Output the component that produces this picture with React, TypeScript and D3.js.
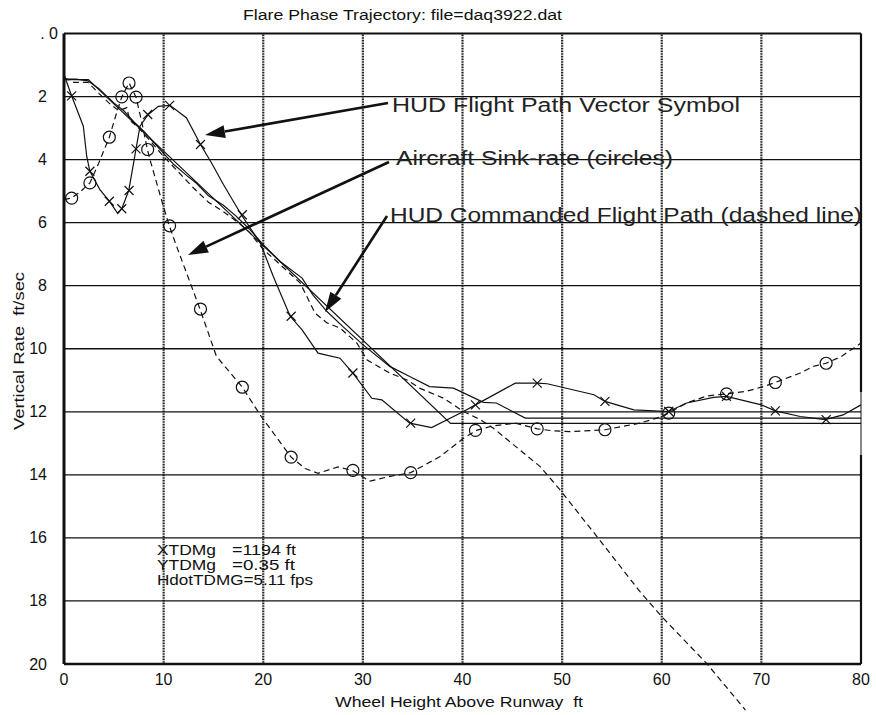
import React from 'react';
import * as d3 from 'd3';

// chart text
const titleText = 'Flare Phase Trajectory: file=daq3922.dat';
const xTitle = 'Wheel Height Above Runway  ft';
const yTitle = 'Vertical Rate  ft/sec';

// axis ticks
const xTicks = [0, 10, 20, 30, 40, 50, 60, 70, 80];
const yTicks = [0, 2, 4, 6, 8, 10, 12, 14, 16, 18, 20];
const yTickLabels = ['. 0', '2', '4', '6', '8', '10', '12', '14', '16', '18', '20'];

// HUD flight path vector symbol (solid line, x markers)
const fpvH = [0, 0.77, 1.94, 2.28, 2.6, 3.6, 4.55, 5.4, 5.8, 6.5, 7.23, 7.63, 8.46, 9.47, 10.64, 12.3, 13.7, 14.8, 16, 17.8, 19.7, 21, 22.7, 23.9, 25.5, 27.7, 29.0, 30.9, 31.9, 34.7, 36.9, 40.1, 41.3, 45.3, 47.5, 48.5, 53.2, 54.3, 57.2, 60.7, 62.5, 65.2, 66.5, 70, 71.4, 73.9, 76.4, 78.2, 80];
const fpvV = [1.3, 1.98, 2.94, 3.9, 4.37, 4.95, 5.32, 5.71, 5.56, 4.98, 3.66, 2.94, 2.57, 2.31, 2.28, 2.68, 3.52, 4.1, 4.79, 5.75, 6.64, 7.7, 8.97, 9.4, 10.14, 10.3, 10.77, 11.57, 11.62, 12.36, 12.5, 11.99, 11.78, 11.09, 11.09, 11.11, 11.46, 11.67, 11.94, 11.99, 11.72, 11.54, 11.51, 11.78, 11.97, 12.15, 12.25, 12.1, 11.78];

// sample points where the markers sit
const markH = [0.77, 2.6, 4.55, 5.8, 6.53, 7.23, 8.4, 10.6, 13.7, 17.9, 22.8, 29.0, 34.8, 41.3, 47.5, 54.3, 60.7, 66.5, 71.4, 76.5];
const fpvMark = [1.98, 4.37, 5.32, 5.56, 4.98, 3.66, 2.57, 2.28, 3.52, 5.75, 8.97, 10.77, 12.36, 11.78, 11.09, 11.67, 11.99, 11.51, 11.97, 12.25];
const sinkMark = [5.22, 4.74, 3.29, 2.01, 1.57, 2.02, 3.68, 6.1, 8.74, 11.22, 13.44, 13.86, 13.93, 12.59, 12.54, 12.57, 12.04, 11.43, 11.07, 10.46];

// aircraft sink-rate (dashed, circles)
const sinkH = [0, 0.77, 1.7, 2.6, 3.5, 4.55, 5.2, 5.8, 6.53, 7.23, 7.8, 8.37, 8.63, 9.97, 10.57, 11.3, 13.65, 15.3, 17.9, 19.8, 22.8, 24.2, 25.5, 27.5, 28.95, 30.7, 32.7, 34.8, 37.75, 40.1, 41.4, 43, 45.3, 47.5, 49, 50.8, 54.3, 57.8, 59.5, 60.7, 62.5, 64.5, 66.5, 68.5, 70.2, 71.4, 73.9, 75.2, 76.5, 78, 80];
const sinkV = [5.27, 5.22, 5.0, 4.74, 4.1, 3.29, 2.6, 2.01, 1.57, 2.02, 2.8, 3.68, 4.0, 5.48, 6.1, 6.75, 8.74, 10.24, 11.22, 12.15, 13.44, 13.8, 13.95, 13.75, 13.86, 14.2, 14.05, 13.93, 13.42, 12.84, 12.59, 12.45, 12.36, 12.54, 12.6, 12.63, 12.57, 12.36, 12.2, 12.04, 11.72, 11.5, 11.43, 11.35, 11.2, 11.07, 10.77, 10.56, 10.46, 10.25, 9.82];

// HUD commanded flight path (dashed)
const cmdH = [0, 1, 2.4, 3.5, 4.5, 5.5, 6.3, 6.6, 7.5, 8.5, 10, 11.5, 13, 14.5, 16, 17.5, 18.6, 20, 21.7, 23.7, 25.2, 26.4, 27.7, 29.4, 30.4, 32.7, 34.5, 35.7, 38.1, 40.1, 41.8, 43.1, 47.8, 49.8, 53.5, 57.8, 60, 64.5, 68.4];
const cmdV = [1.4, 1.55, 1.55, 1.9, 2.2, 2.45, 2.35, 2.75, 3.0, 3.35, 3.9, 4.4, 4.9, 5.35, 5.65, 6.0, 6.3, 6.85, 7.33, 7.91, 8.87, 9.18, 9.34, 9.82, 10.35, 10.77, 11.0, 11.25, 11.57, 11.99, 12.25, 12.52, 13.74, 14.48, 15.96, 17.7, 18.5, 19.98, 21.46];

// second solid trace
const trkH = [0, 1.2, 2.4, 3.5, 5, 6, 7, 8, 9, 10, 11, 12.3, 13.3, 14.5, 16, 17.3, 18.6, 20, 21.7, 23.9, 25, 26.4, 28, 30, 32.7, 34.7, 36.7, 39.1, 42.1, 43.4, 46.3, 80];
const trkV = [1.45, 1.45, 1.5, 1.75, 2.2, 2.45, 2.8, 3.1, 3.45, 3.8, 4.15, 4.5, 4.75, 5.15, 5.45, 5.8, 6.2, 6.7, 7.23, 7.76, 8.3, 8.82, 9.3, 9.87, 10.56, 10.88, 11.2, 11.25, 11.7, 11.72, 12.2, 12.2];

// straight reference trace
const refH = [0, 2.44, 38.8, 80];
const refV = [1.46, 1.46, 12.37, 12.37];

const notes = [
  { text: 'HUD Flight Path Vector Symbol', x: 392, y: 112, len: 348, tail: [388, 103], tip: [205, 135] },
  { text: 'Aircraft Sink-rate (circles)', x: 396, y: 165, len: 277, tail: [389, 162], tip: [188, 255] },
  { text: 'HUD Commanded Flight Path (dashed line)', x: 390, y: 222, len: 472, tail: [387, 216], tip: [325, 312] },
];

const font = 'Arial, "Liberation Sans", sans-serif';

function Arrow({ tail, tip }: { tail: number[]; tip: number[] }) {
  const dx = tip[0] - tail[0];
  const dy = tip[1] - tail[1];
  const len = Math.hypot(dx, dy);
  const ux = dx / len;
  const uy = dy / len;
  const hl = 20;
  const hw = 6.5;
  const bx = tip[0] - ux * hl;
  const by = tip[1] - uy * hl;
  const pts = [
    [tip[0], tip[1]],
    [bx - uy * hw, by + ux * hw],
    [bx + uy * hw, by - ux * hw],
  ];
  return (
    <g>
      <line x1={tail[0]} y1={tail[1]} x2={bx} y2={by} stroke="#111" strokeWidth={2.6} />
      <polygon points={pts.map((p) => p.join(',')).join(' ')} fill="#111" />
    </g>
  );
}

export default function App() {
  const width = 876;
  const height = 715;
  const left = 64;
  const right = 861;
  const top = 33.5;
  const bottom = 664;

  const x = d3.scaleLinear().domain([0, 80]).range([left, right]);
  const y = d3.scaleLinear().domain([0, 20]).range([top, bottom]);

  const line = d3
    .line<number[]>()
    .x((d) => x(d[0]))
    .y((d) => y(d[1]));

  const zip = (a: number[], b: number[]) => a.map((v, i) => [v, b[i]]);

  return (
    <div style={{ position: 'absolute', left: 0, top: 0 }}>
      <svg width={width} height={height} style={{ display: 'block', background: '#fff' }} fontFamily={font}>
        {/* vertical grid */}
        {xTicks.slice(1, -1).map((t) => (
          <line key={'vx' + t} x1={x(t)} x2={x(t)} y1={top} y2={bottom} stroke="#222" strokeWidth={2.2} strokeDasharray="1 0.6" />
        ))}
        {/* horizontal grid */}
        {yTicks.slice(1, -1).map((t) => (
          <line key={'hy' + t} x1={left} x2={right} y1={y(t)} y2={y(t)} stroke="#111" strokeWidth={1.3} />
        ))}

        {/* frame */}
        <line x1={left} x2={right} y1={top} y2={top} stroke="#111" strokeWidth={2} />
        <line x1={left} x2={right} y1={bottom} y2={bottom} stroke="#111" strokeWidth={2.5} />
        <line x1={left} x2={left} y1={top} y2={bottom} stroke="#111" strokeWidth={3} />
        <line x1={right} x2={right} y1={top} y2={392} stroke="#111" strokeWidth={2.2} />
        <line x1={right} x2={right} y1={392} y2={455} stroke="#111" strokeWidth={1} />
        <line x1={right} x2={right} y1={455} y2={bottom} stroke="#111" strokeWidth={2.2} />

        {/* traces */}
        <path d={line(zip(refH, refV)) || ''} fill="none" stroke="#111" strokeWidth={1.2} />
        <path d={line(zip(trkH, trkV)) || ''} fill="none" stroke="#111" strokeWidth={1.2} />
        <path d={line(zip(cmdH, cmdV)) || ''} fill="none" stroke="#111" strokeWidth={1.2} strokeDasharray="6 4" />
        <path d={line(zip(sinkH, sinkV)) || ''} fill="none" stroke="#111" strokeWidth={1.2} strokeDasharray="6 4" />
        <path d={line(zip(fpvH, fpvV)) || ''} fill="none" stroke="#111" strokeWidth={1.2} />

        {markH.map((h, i) => (
          <circle key={'c' + i} cx={x(h)} cy={y(sinkMark[i])} r={6} fill="none" stroke="#111" strokeWidth={1.2} />
        ))}
        {markH.map((h, i) => {
          const cx = x(h);
          const cy = y(fpvMark[i]);
          const s = 4.5;
          return (
            <path
              key={'x' + i}
              d={`M${cx - s},${cy - s}L${cx + s},${cy + s}M${cx - s},${cy + s}L${cx + s},${cy - s}`}
              stroke="#111"
              strokeWidth={1.2}
            />
          );
        })}

        {/* tick labels */}
        {yTicks.map((t, i) => (
          <text key={'yl' + t} x={i === 0 ? 58 : 47} y={y(t) + 5.5} textAnchor="end" fontSize={16} fill="#111">
            {yTickLabels[i]}
          </text>
        ))}
        {xTicks.map((t) => (
          <text key={'xl' + t} x={x(t)} y={685} textAnchor="middle" fontSize={16} fill="#111">
            {t}
          </text>
        ))}

        {/* titles */}
        <text x={243} y={20} fontSize={14} textLength={319} lengthAdjust="spacingAndGlyphs" fill="#111">
          {titleText}
        </text>
        <text x={335} y={707} fontSize={14} textLength={248} lengthAdjust="spacingAndGlyphs" fill="#111" style={{ whiteSpace: 'pre' }}>
          {xTitle}
        </text>
        <text
          transform="translate(24,430) rotate(-90)"
          x={0}
          y={0}
          fontSize={14}
          textLength={158}
          lengthAdjust="spacingAndGlyphs"
          fill="#111"
          style={{ whiteSpace: 'pre' }}
        >
          {yTitle}
        </text>

        {/* touchdown values */}
        <g fontSize={14.5} fill="#111">
          <text x={157} y={555} textLength={59} lengthAdjust="spacingAndGlyphs">XTDMg</text>
          <text x={232} y={555} textLength={64} lengthAdjust="spacingAndGlyphs">=1194 ft</text>
          <text x={157} y={570} textLength={59} lengthAdjust="spacingAndGlyphs">YTDMg</text>
          <text x={232} y={570} textLength={63} lengthAdjust="spacingAndGlyphs">=0.35 ft</text>
          <text x={157} y={585} textLength={156} lengthAdjust="spacingAndGlyphs">HdotTDMG=5.11 fps</text>
        </g>

        {/* annotations */}
        {notes.map((n, i) => (
          <g key={'n' + i}>
            <Arrow tail={n.tail} tip={n.tip} />
            <text x={n.x} y={n.y} fontSize={20} textLength={n.len} lengthAdjust="spacingAndGlyphs" fill="#222">
              {n.text}
            </text>
          </g>
        ))}
      </svg>
    </div>
  );
}
